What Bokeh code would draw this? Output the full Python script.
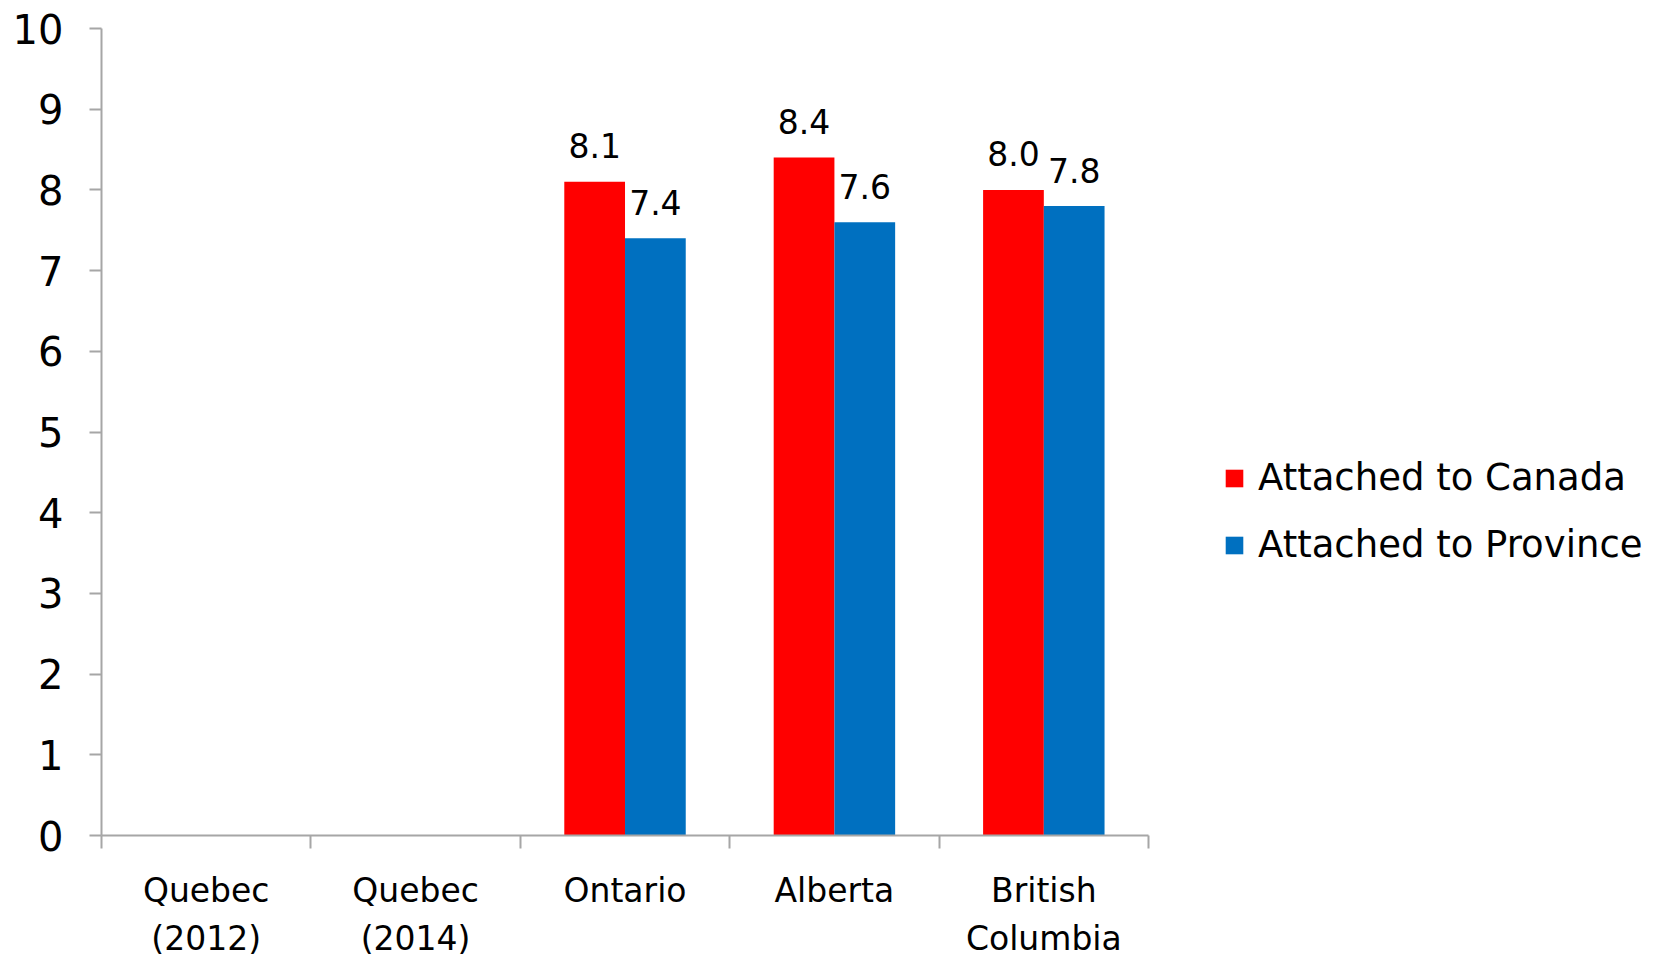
import math
from bokeh.plotting import figure
from bokeh.models import FixedTicker, Range1d, Legend, LegendItem, ColumnDataSource
from bokeh.core.properties import value
from bokeh.embed import file_html
from bokeh.resources import INLINE

categories = ["Quebec\n(2012)", "Quebec\n(2014)", "Ontario", "Alberta", "British\nColumbia"]
canada = [float("nan"), float("nan"), 8.1, 8.4, 8.0]
province = [float("nan"), float("nan"), 7.4, 7.6, 7.8]
series_names = ["Attached to Canada", "Attached to Province"]
y_ticks = [0, 1, 2, 3, 4, 5, 6, 7, 8, 9, 10]

FONT = "DejaVu Sans"
RED = "#FF0000"
BLUE = "#0070C0"
AXIS = "#A6A6A6"
BAR_W = 0.29

n = len(categories)
centers = [i + 0.5 for i in range(n)]
bounds = [float(i) for i in range(n + 1)]

p = figure(width=1664, height=963, x_range=Range1d(0, 7.464), y_range=Range1d(0, 10),
           output_backend="svg", toolbar_location=None, title=None,
           min_border_left=101, min_border_right=0, min_border_top=28, min_border_bottom=128)
p.outline_line_color = None
p.xgrid.visible = False
p.ygrid.visible = False
p.background_fill_color = "white"
p.border_fill_color = "white"

def fmt(v):
    return "" if math.isnan(v) else f"{v:.1f}"

src = ColumnDataSource(dict(
    xc=[c - BAR_W / 2 for c in centers],
    xp=[c + BAR_W / 2 for c in centers],
    canada=canada, province=province,
    lc=[fmt(v) for v in canada], lp=[fmt(v) for v in province],
))

r1 = p.vbar(x="xc", top="canada", bottom=0, width=BAR_W, source=src, fill_color=RED, line_color=None)
r2 = p.vbar(x="xp", top="province", bottom=0, width=BAR_W, source=src, fill_color=BLUE, line_color=None)

for xcol, ycol, tcol in [("xc", "canada", "lc"), ("xp", "province", "lp")]:
    p.text(x=xcol, y=ycol, text=tcol, source=src, text_align="center", text_baseline="alphabetic",
           y_offset=-36, text_font=value(FONT), text_font_size="33px", text_color="black")

# x axis
xa = p.xaxis[0]
xa.bounds = (0, n)
xa.ticker = FixedTicker(ticks=centers, minor_ticks=bounds)
xa.major_label_overrides = {c: lab for c, lab in zip(centers, categories)}
xa.major_tick_line_color = None
xa.minor_tick_in = 0
xa.minor_tick_out = 13
xa.minor_tick_line_color = AXIS
xa.minor_tick_line_width = 2
xa.axis_line_color = AXIS
xa.axis_line_width = 2
xa.major_label_text_font = FONT
xa.major_label_text_font_size = "33px"
xa.major_label_text_color = "black"
xa.major_label_text_line_height = 1.25
xa.major_label_standoff = 22

ya = p.yaxis[0]
ya.ticker = FixedTicker(ticks=y_ticks)
ya.major_tick_in = 0
ya.major_tick_out = 12
ya.major_tick_line_color = AXIS
ya.major_tick_line_width = 2
ya.minor_tick_line_color = None
ya.axis_line_color = AXIS
ya.axis_line_width = 2
ya.major_label_text_font = FONT
ya.major_label_text_font_size = "40px"
ya.major_label_text_color = "black"
ya.major_label_standoff = 26

legend = Legend(items=[LegendItem(label=series_names[0], renderers=[r1]),
                       LegendItem(label=series_names[1], renderers=[r2])],
                location=(1122, 269), orientation="vertical",
                glyph_width=22, glyph_height=22, label_standoff=13, spacing=24,
                padding=0, margin=0, border_line_color=None, background_fill_alpha=0,
                label_text_font=FONT, label_text_font_size="37px", label_text_color="black")
p.add_layout(legend, "center")

open("out.html", "w").write(file_html(p, INLINE))
